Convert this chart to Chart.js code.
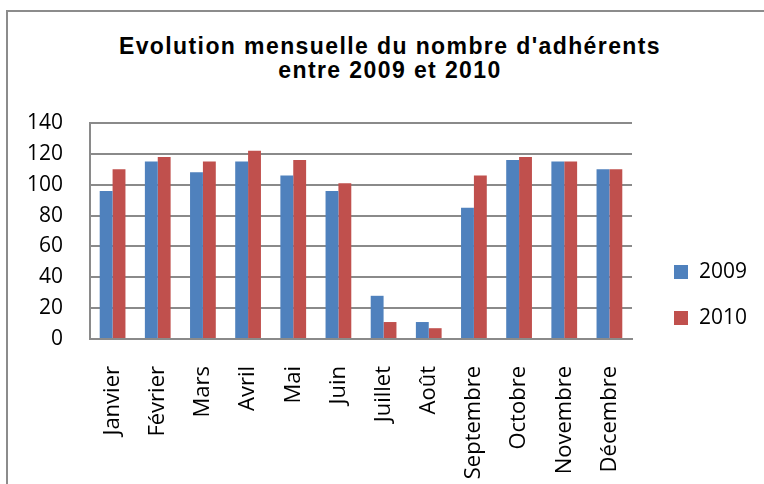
<!DOCTYPE html>
<html lang="fr">
<head>
    <meta charset="UTF-8">
    <title>Evolution mensuelle du nombre d'adhérents</title>
    <script src="https://cdn.jsdelivr.net/npm/chart.js"></script>
    <style>
        body { margin: 0; background: #fff; }
        #wrap { position: relative; width: 764px; height: 484px; overflow: hidden; }
        #frame { position: absolute; left: 6px; top: 10px; width: 800px; height: 500px;
                 border-left: 2px solid #8c8c8c; border-top: 2px solid #8c8c8c; }
        #title { position: absolute; left: 0; top: 34px; width: 780px; text-align: center;
                 font: bold 23px "Liberation Sans", Arial, sans-serif; line-height: 24px;
                 letter-spacing: 1.4px; color: #000; }
        #chart { position: absolute; left: 0; top: 0; }
        .legend-item { position: absolute; left: 674px; height: 20px;
                       font: 21px "Open Sans", sans-serif; line-height: 20px; color: #000; }
        .legend-item span { display: inline-block; width: 14px; height: 14px; margin-right: 11px;
                            vertical-align: -1px; }
    </style>
</head>
<body>
    <div id="wrap">
        <div id="frame"></div>
        <div id="title">Evolution mensuelle du nombre d'adhérents<br>entre 2009 et 2010</div>
        <canvas id="chart" width="764" height="484"></canvas>
        <div id="legend"></div>
    </div>

    <script>
        // Data
        const months = ['Janvier', 'Février', 'Mars', 'Avril', 'Mai', 'Juin',
                        'Juillet', 'Août', 'Septembre', 'Octobre', 'Novembre', 'Décembre'];
        const seriesNames = ['2009', '2010'];
        const values2009 = [96, 115, 108, 115, 106, 96, 28, 11, 85, 116, 115, 110];
        const values2010 = [110, 118, 115, 122, 116, 101, 11, 7, 106, 118, 115, 110];
        const yTicks = [0, 20, 40, 60, 80, 100, 120, 140];

        const colors = ['#4F81BD', '#C0504D'];
        const gridColor = '#8a8a8a';

        document.addEventListener('DOMContentLoaded', () => {
            buildLegend();
            initChart();
        });

        function buildLegend() {
            const legend = document.getElementById('legend');
            seriesNames.forEach((name, i) => {
                const item = document.createElement('div');
                item.className = 'legend-item';
                item.style.top = (260 + i * 46) + 'px';
                item.innerHTML = `<span style="background:${colors[i]}"></span>${name}`;
                legend.appendChild(item);
            });
        }

        function initChart() {
            const ctx = document.getElementById('chart').getContext('2d');
            new Chart(ctx, {
                type: 'bar',
                data: {
                    labels: months,
                    datasets: [
                        { label: seriesNames[0], data: values2009, backgroundColor: colors[0] },
                        { label: seriesNames[1], data: values2010, backgroundColor: colors[1] }
                    ]
                },
                options: {
                    responsive: false,
                    animation: false,
                    categoryPercentage: 0.57,
                    barPercentage: 1,
                    layout: {
                        padding: { left: 25, right: 132, top: 123, bottom: 0 }
                    },
                    plugins: {
                        legend: { display: false },
                        title: { display: false },
                        tooltip: { enabled: false }
                    },
                    scales: {
                        x: {
                            grid: { display: false },
                            border: { display: true, color: gridColor, width: 2 },
                            ticks: {
                                color: '#000',
                                font: { family: 'Open Sans', size: 22 },
                                minRotation: 90,
                                maxRotation: 90,
                                autoSkip: false,
                                padding: 19
                            },
                            afterFit: (scale) => { scale.height = 145; }
                        },
                        y: {
                            min: yTicks[0],
                            max: yTicks[yTicks.length - 1],
                            grid: { color: gridColor, lineWidth: 2, drawTicks: false },
                            border: { display: true, color: gridColor, width: 2 },
                            ticks: {
                                stepSize: yTicks[1] - yTicks[0],
                                color: '#000',
                                font: { family: 'Open Sans', size: 21 },
                                padding: 27
                            },
                            afterFit: (scale) => { scale.width = 65; }
                        }
                    }
                }
            });
        }
    </script>
</body>
</html>
